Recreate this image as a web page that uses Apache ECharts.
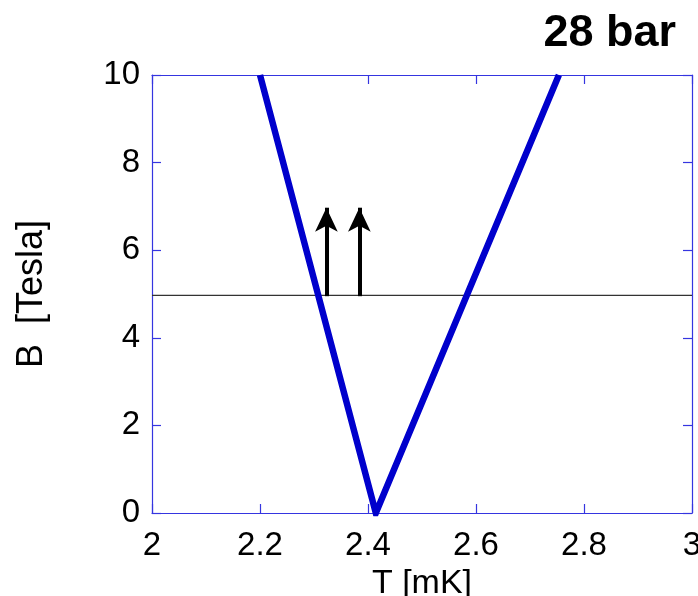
<!DOCTYPE html>
<html>
<head>
<meta charset="utf-8">
<script src="https://cdn.jsdelivr.net/npm/echarts@6/dist/echarts.min.js"></script>
<style>html,body{margin:0;padding:0;background:#fff;overflow:hidden;}#c{width:698px;height:596px;}</style>
</head>
<body>
<div id="c"></div>
<script>
// Data
const titleText = '28 bar';
const xName = 'T [mK]';
const yName = 'B  [Tesla]';
const phaseT = [2.2, 2.4145, 2.7535];   // T [mK] of the blue boundary
const phaseB = [10, 0, 10];             // B [Tesla]
const fieldLevel = 4.97;                // horizontal line B value
const lineT = [2, 3];
const arrowT = [2.323, 2.384];          // arrow positions (T)
const arrowFromB = 4.95;
const arrowToB = 6.97;
const xTicks = [2, 2.2, 2.4, 2.6, 2.8, 3];
const yTicks = [0, 2, 4, 6, 8, 10];

const axisBlue = '#3535e0';
const font = 'Liberation Sans, Arial, Helvetica, sans-serif';

const chart = echarts.init(document.getElementById('c'), null, {renderer: 'canvas'});

const baseX = {
  type: 'value', min: xTicks[0], max: xTicks[xTicks.length - 1], interval: 0.2,
  axisLine: {show: true, onZero: false, lineStyle: {color: axisBlue, width: 1.2}},
  axisTick: {show: true, inside: true, length: 9, lineStyle: {color: axisBlue, width: 1.2}},
  splitLine: {show: false}
};
const baseY = {
  type: 'value', min: yTicks[0], max: yTicks[yTicks.length - 1], interval: 2,
  axisLine: {show: true, onZero: false, lineStyle: {color: axisBlue, width: 1.2}},
  axisTick: {show: true, inside: true, length: 9, lineStyle: {color: axisBlue, width: 1.2}},
  splitLine: {show: false}
};

chart.setOption({
  backgroundColor: '#ffffff',
  animation: false,
  title: {
    text: titleText, right: 17, top: 6,
    textStyle: {fontFamily: font, fontWeight: 'bold', fontSize: 45, color: '#000'}
  },
  grid: {left: 152, right: 6, top: 75, bottom: 83, containLabel: false, outerBoundsMode: 'none'},
  xAxis: [
    Object.assign({}, baseX, {
      position: 'bottom',
      name: xName, nameLocation: 'middle', nameGap: 54,
      nameTextStyle: {fontFamily: font, fontSize: 34, color: '#000'},
      axisLabel: {show: true, margin: 16, fontFamily: font, fontSize: 33, color: '#000',
        formatter: v => String(parseFloat(v.toFixed(1)))}
    }),
    Object.assign({}, baseX, {position: 'top', axisLabel: {show: false}})
  ],
  yAxis: [
    Object.assign({}, baseY, {
      position: 'left',
      name: yName, nameLocation: 'middle', nameGap: 102, nameRotate: 90,
      nameTextStyle: {fontFamily: font, fontSize: 36, color: '#000'},
      axisLabel: {show: true, margin: 12, fontFamily: font, fontSize: 33, color: '#000',
        formatter: v => String(v)}
    }),
    Object.assign({}, baseY, {position: 'right', axisLabel: {show: false}})
  ],
  series: [
    {
      type: 'line', xAxisIndex: 0, yAxisIndex: 0,
      data: lineT.map(t => [t, fieldLevel]),
      symbol: 'none', lineStyle: {color: '#333333', width: 1.2}, z: 2
    },
    {
      type: 'line', xAxisIndex: 0, yAxisIndex: 0,
      data: phaseT.map((t, i) => [t, phaseB[i]]),
      symbol: 'none', lineStyle: {color: '#0000cc', width: 6.5, cap: 'butt', join: 'miter'}, z: 3,
      markLine: {
        silent: true, animation: false,
        symbol: ['none', 'arrow'], symbolSize: [17, 24],
        label: {show: false},
        lineStyle: {color: '#000', width: 4, type: 'solid'},
        data: arrowT.map(t => [{coord: [t, arrowFromB]}, {coord: [t, arrowToB]}])
      }
    }
  ]
});
</script>
</body>
</html>
